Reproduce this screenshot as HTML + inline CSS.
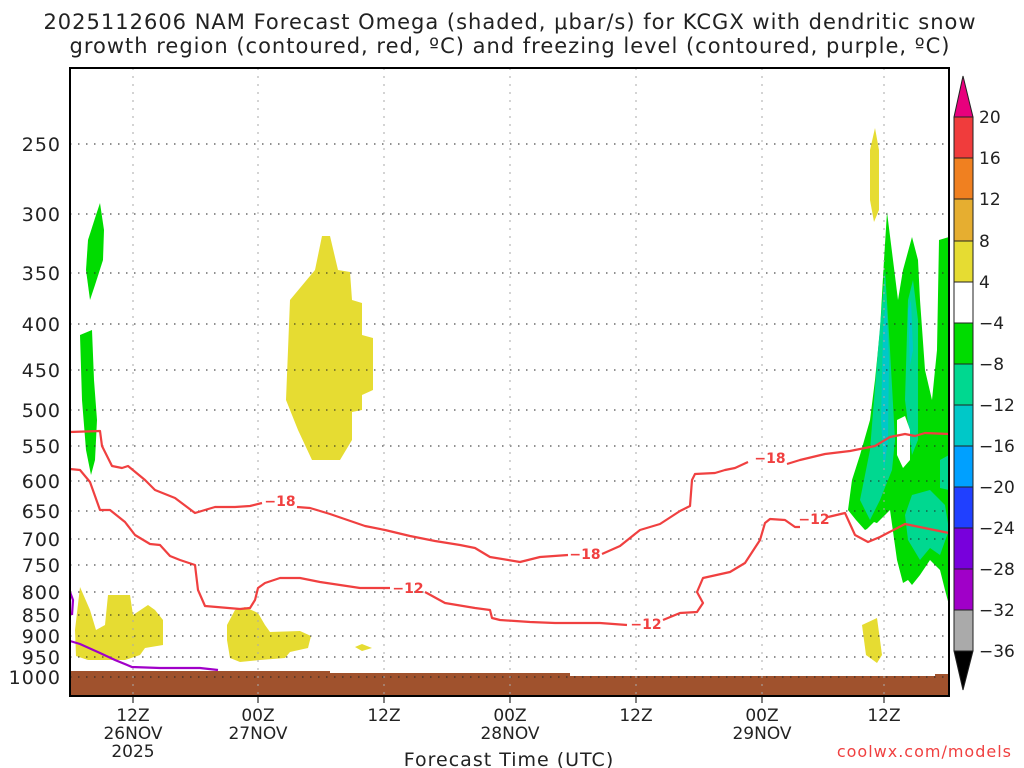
<!DOCTYPE html>
<html><head><style>body{margin:0;background:#fff}svg{display:block}</style></head><body>
<svg width="1024" height="768" xmlns="http://www.w3.org/2000/svg" font-family="DejaVu Sans, Liberation Sans, sans-serif">
<rect width="1024" height="768" fill="#fff"/>
<text x="510" y="29" font-size="21" letter-spacing="1" text-anchor="middle" fill="#222">2025112606 NAM Forecast Omega (shaded, μbar/s) for KCGX with dendritic snow</text>
<text x="510" y="53" font-size="21" letter-spacing="1" text-anchor="middle" fill="#222">growth region (contoured, red, ºC) and freezing level (contoured, purple, ºC)</text>
<g fill="#e6dc32">
<polygon points="322,236 330,236 338,270 350,272 352,300 362,303 362,335 373,338 373,390 362,395 362,410 352,412 352,440 340,460 312,460 298,430 286,400 290,300 315,270"/>
<polygon points="76,656 75,630 80,587 90,610 96,630 105,625 108,595 130,595 133,615 148,605 155,610 163,620 163,645 145,648 140,655 125,660 100,660 88,660"/>
<polygon points="227,640 227,625 235,610 245,607 258,613 265,625 270,632 300,631 311,636 308,648 290,652 285,658 260,660 240,662 230,658"/>
<polygon points="355,647 362,644 372,648 362,651"/>
<polygon points="862,625 877,618 880,640 882,655 877,663 866,655"/>
<polygon points="870,150 875,128 879,150 879,210 874,222 870,200"/>
</g>
<g fill="#00dc00">
<polygon points="88,240 96,215 100,203 104,230 103,260 95,285 90,300 86,270"/>
<polygon points="80,335 92,330 94,380 97,420 95,460 91,475 86,450 82,400"/>
<polygon points="848,510 852,480 860,455 870,420 875,380 880,330 884,260 887,212 893,260 898,300 903,270 912,237 918,260 920,300 925,370 932,400 937,350 939,240 949,237 949,605 945,590 940,570 930,560 920,575 912,585 908,580 903,583 897,560 890,510 875,525 865,530 856,520"/>
</g>
<g fill="#00d890">
<polygon points="860,500 870,450 878,350 885,270 890,350 895,440 892,470 880,500 870,520"/>
<polygon points="905,400 908,300 913,280 918,320 918,440 912,455"/>
<polygon points="905,515 912,495 930,490 945,505 949,530 940,555 930,548 920,560 908,540"/>
<polygon points="940,460 949,455 949,490 940,488"/>
</g>
<g fill="#00c8c8">
<polygon points="883,330 886,300 889,360 888,440 884,470 881,420"/>
<polygon points="908,310 911,300 913,350 910,365"/>
</g>
<g fill="#fff">
<polygon points="897,420 905,416 910,430 910,460 903,468 897,455"/>
<polygon points="866,530 874,522 882,525 888,530 872,534"/>
</g>
<polygon fill="#a0522d" points="70,671 330,671 330,673 570,673 570,676 935,676 935,674 949,674 949,696 70,696"/>
<g stroke="#222" stroke-width="1" stroke-dasharray="1.5,6.5">
<line x1="70" x2="949" y1="144" y2="144"/><line x1="70" x2="949" y1="214" y2="214"/><line x1="70" x2="949" y1="273" y2="273"/><line x1="70" x2="949" y1="324" y2="324"/><line x1="70" x2="949" y1="370" y2="370"/><line x1="70" x2="949" y1="410" y2="410"/><line x1="70" x2="949" y1="446" y2="446"/><line x1="70" x2="949" y1="481" y2="481"/><line x1="70" x2="949" y1="511" y2="511"/><line x1="70" x2="949" y1="539" y2="539"/><line x1="70" x2="949" y1="565" y2="565"/><line x1="70" x2="949" y1="592" y2="592"/><line x1="70" x2="949" y1="615" y2="615"/><line x1="70" x2="949" y1="636" y2="636"/><line x1="70" x2="949" y1="657" y2="657"/><line x1="70" x2="949" y1="677" y2="677"/>
</g>
<g stroke="#aaa" stroke-width="1" stroke-dasharray="2,6">
<line x1="133" x2="133" y1="68" y2="696"/><line x1="258" x2="258" y1="68" y2="696"/><line x1="384" x2="384" y1="68" y2="696"/><line x1="510" x2="510" y1="68" y2="696"/><line x1="636" x2="636" y1="68" y2="696"/><line x1="762" x2="762" y1="68" y2="696"/><line x1="884" x2="884" y1="68" y2="696"/>
</g>
<g fill="none" stroke="#f04040" stroke-width="2.2" stroke-linejoin="round">
<polyline points="70,432 100,431 102,446 112,466 122,468 128,466 145,480 155,490 160,492 175,498 195,513 215,507 235,507 250,506 262,503"/>
<polyline points="297,507 310,508 330,514 365,526 385,530 410,536 435,541 460,545 475,548 490,557 520,562 540,557 568,555"/>
<polyline points="602,554 620,546 640,530 660,524 680,511 690,506 692,480 695,474 715,473 725,470 735,468 748,462"/>
<polyline points="787,464 800,460 825,454 850,451 875,446 890,437 905,434 915,436 925,433 949,434"/>
<polyline points="70,469 80,470 90,482 100,510 110,510 125,522 135,535 150,544 160,545 170,556 180,560 195,565 198,590 205,606 240,609 250,608 255,600 258,588 265,583 280,578 300,578 320,582 360,588 380,588 390,588"/>
<polyline points="425,592 445,603 475,608 490,610 492,618 500,620 530,622 555,623 600,623 627,625"/>
<polyline points="663,620 680,613 697,612 703,603 697,592 703,578 730,572 745,563 760,540 765,523 770,519 785,520 795,527 800,527"/>
<polyline points="828,517 845,513 855,535 868,542 880,537 905,524 949,533"/>
</g>
<g fill="#f04040" font-size="14" font-weight="bold" text-anchor="middle">
<text x="280" y="506">−18</text><text x="585" y="559">−18</text><text x="770" y="463">−18</text>
<text x="408" y="593">−12</text><text x="646" y="629">−12</text><text x="814" y="524">−12</text>
</g>
<g fill="none" stroke="#a000c8" stroke-width="2.2">
<polyline points="70,592 73,600 72,615"/>
<polyline points="70,641 80,644 100,653 115,660 132,667 160,668 200,668 218,670"/>
</g>
<rect x="70" y="68" width="879" height="628" fill="none" stroke="#000" stroke-width="2"/>
<g font-size="19" text-anchor="end" fill="#222" letter-spacing="1">
<text x="61" y="151">250</text><text x="61" y="221">300</text><text x="61" y="280">350</text><text x="61" y="331">400</text><text x="61" y="377">450</text><text x="61" y="417">500</text><text x="61" y="453">550</text><text x="61" y="488">600</text><text x="61" y="518">650</text><text x="61" y="546">700</text><text x="61" y="572">750</text><text x="61" y="599">800</text><text x="61" y="622">850</text><text x="61" y="643">900</text><text x="61" y="664">950</text><text x="61" y="684">1000</text>
</g>
<g stroke="#000"><line x1="133" x2="133" y1="696" y2="703"/><line x1="258" x2="258" y1="696" y2="703"/><line x1="384" x2="384" y1="696" y2="703"/><line x1="510" x2="510" y1="696" y2="703"/><line x1="636" x2="636" y1="696" y2="703"/><line x1="762" x2="762" y1="696" y2="703"/><line x1="884" x2="884" y1="696" y2="703"/></g>
<g font-size="17" text-anchor="middle" fill="#222">
<text x="133" y="721">12Z</text><text x="133" y="739">26NOV</text><text x="133" y="757">2025</text>
<text x="258" y="721">00Z</text><text x="258" y="739">27NOV</text>
<text x="384" y="721">12Z</text>
<text x="510" y="721">00Z</text><text x="510" y="739">28NOV</text>
<text x="636" y="721">12Z</text>
<text x="762" y="721">00Z</text><text x="762" y="739">29NOV</text>
<text x="884" y="721">12Z</text>
</g>
<text x="509" y="766" font-size="19" letter-spacing="1" text-anchor="middle" fill="#222">Forecast Time (UTC)</text>
<text x="1012" y="757" font-size="16" text-anchor="end" fill="#f04040" letter-spacing="1">coolwx.com/models</text>
<g stroke="#222" stroke-width="1">
<polygon points="963,76 973,117 954,117" fill="#e8007d"/>
<rect x="954" y="117" width="19" height="41" fill="#f03c3c"/>
<rect x="954" y="158" width="19" height="41" fill="#f08020"/>
<rect x="954" y="199" width="19" height="42" fill="#e6ae30"/>
<rect x="954" y="241" width="19" height="41" fill="#e6dc32"/>
<rect x="954" y="282" width="19" height="41" fill="#fff"/>
<rect x="954" y="323" width="19" height="41" fill="#00dc00"/>
<rect x="954" y="364" width="19" height="41" fill="#00d890"/>
<rect x="954" y="405" width="19" height="41" fill="#00c8c8"/>
<rect x="954" y="446" width="19" height="41" fill="#00a0ff"/>
<rect x="954" y="487" width="19" height="41" fill="#2040ff"/>
<rect x="954" y="528" width="19" height="41" fill="#7800dc"/>
<rect x="954" y="569" width="19" height="41" fill="#a000c8"/>
<rect x="954" y="610" width="19" height="41" fill="#aaa"/>
<polygon points="954,651 973,651 963,690" fill="#000"/>
</g>
<g font-size="17" fill="#222">
<text x="979" y="123">20</text><text x="979" y="164">16</text><text x="979" y="205">12</text><text x="979" y="247">8</text><text x="979" y="288">4</text><text x="979" y="329">−4</text><text x="979" y="370">−8</text><text x="979" y="411">−12</text><text x="979" y="452">−16</text><text x="979" y="493">−20</text><text x="979" y="534">−24</text><text x="979" y="575">−28</text><text x="979" y="616">−32</text><text x="979" y="657">−36</text>
</g>
</svg>
</body></html>
